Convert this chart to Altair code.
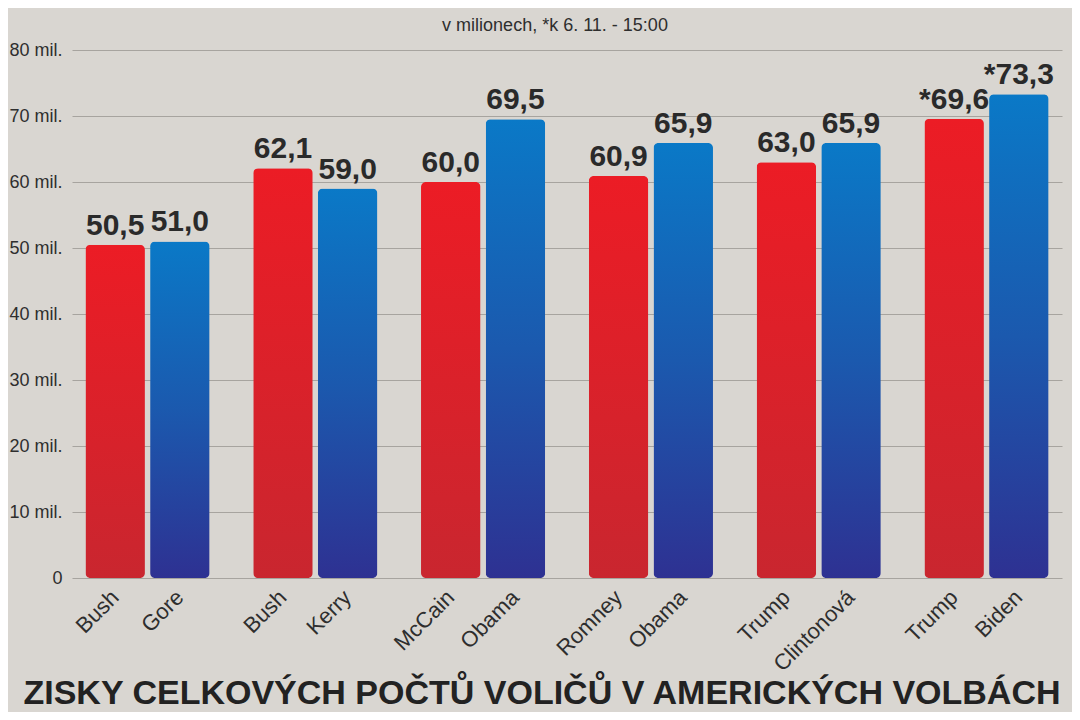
import altair as alt
import pandas as pd

# ---- data ----
years = ["2000", "2000", "2004", "2004", "2008", "2008",
         "2012", "2012", "2016", "2016", "2020", "2020"]
candidates = ["Bush", "Gore", "Bush", "Kerry", "McCain", "Obama",
              "Romney", "Obama", "Trump", "Clintonová", "Trump", "Biden"]
parties = ["R", "D", "R", "D", "R", "D", "R", "D", "R", "D", "R", "D"]
votes = [50.5, 51.0, 62.1, 59.0, 60.0, 69.5, 60.9, 65.9, 63.0, 65.9, 69.6, 73.3]
starred = [False] * 10 + [True, True]
y_ticks = [0, 10, 20, 30, 40, 50, 60, 70, 80]

subtitle_text = "v milionech, *k 6. 11. - 15:00"
title_text = "ZISKY CELKOVÝCH POČTŮ VOLIČŮ V AMERICKÝCH VOLBÁCH"

df = pd.DataFrame({
    "year": years,
    "candidate": candidates,
    "party": parties,
    "votes": votes,
})
df["label"] = [("*" if s else "") + f"{v:.1f}".replace(".", ",")
               for v, s in zip(votes, starred)]

W, H = 990, 528
FONT = "Liberation Sans"
BG = "#D9D6D1"

x_enc = alt.X("year:N", sort=None, axis=None,
              scale=alt.Scale(paddingInner=0.26, paddingOuter=0.08))
xo_enc = alt.XOffset("party:N", sort=["R", "D"],
                     scale=alt.Scale(paddingInner=0.08))
y_enc = alt.Y("votes:Q", scale=alt.Scale(domain=[0, 80]),
              axis=alt.Axis(values=y_ticks, title=None, domain=False, ticks=False,
                            grid=True, gridColor="#A7A49F", gridWidth=1,
                            labelExpr="datum.value == 0 ? '0' : datum.value + ' mil.'",
                            labelFont=FONT, labelFontSize=18, labelColor="#2E2E2E",
                            labelPadding=10))

base = alt.Chart(df).encode(x=x_enc, xOffset=xo_enc)

red_grad = alt.Gradient(gradient="linear", x1=0, x2=0, y1=0, y2=1, stops=[
    alt.GradientStop(color="#EC1C25", offset=0),
    alt.GradientStop(color="#C9262F", offset=1)])
blue_grad = alt.Gradient(gradient="linear", x1=0, x2=0, y1=0, y2=1, stops=[
    alt.GradientStop(color="#0A79C7", offset=0),
    alt.GradientStop(color="#1B59AE", offset=0.5),
    alt.GradientStop(color="#2E3192", offset=1)])

red_bars = base.transform_filter("datum.party == 'R'").mark_bar(
    color=red_grad, cornerRadius=5).encode(y=y_enc)
blue_bars = base.transform_filter("datum.party == 'D'").mark_bar(
    color=blue_grad, cornerRadius=5).encode(y=y_enc)

value_labels = base.mark_text(font=FONT, fontSize=30, fontWeight="bold",
                              color="#2A2A2A", baseline="bottom", dy=-4).encode(
    y="votes:Q", text="label:N")

name_labels = base.mark_text(font=FONT, fontSize=22, color="#2E2E2E",
                             angle=315, align="right", baseline="middle").encode(
    y=alt.value(H + 16), text="candidate:N")

subtitle = alt.Chart(pd.DataFrame({"t": [subtitle_text]})).mark_text(
    font=FONT, fontSize=18, color="#2E2E2E", align="center", baseline="middle").encode(
    x=alt.value(483), y=alt.value(-24), text="t:N")

title = alt.Chart(pd.DataFrame({"t": [title_text]})).mark_text(
    font=FONT, fontSize=34, fontWeight="bold", color="#222222",
    align="center", baseline="alphabetic").encode(
    x=alt.value(470), y=alt.value(H + 126), text="t:N")

chart = alt.layer(red_bars, blue_bars, value_labels, name_labels, subtitle, title).properties(
    width=W, height=H, background=BG,
    padding={"left": 64, "top": 42, "right": 10, "bottom": 134},
    autosize=alt.AutoSizeParams(type="none"),
).configure_view(stroke=None)

chart.save("out.html", embed_options={"renderer": "svg", "actions": False})
